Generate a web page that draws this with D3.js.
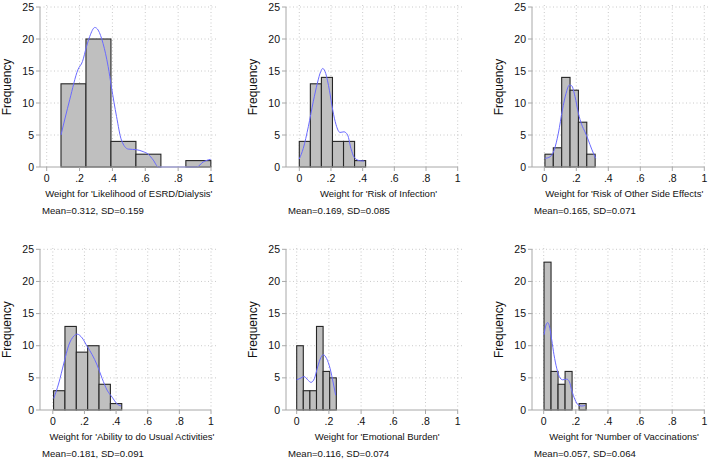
<!DOCTYPE html>
<html>
<head>
<meta charset="utf-8">
<script src="https://cdn.jsdelivr.net/npm/d3@7"></script>
<style>
  body { margin: 0; background: #fff; }
  svg { display: block; font-family: "Liberation Sans", Arial, sans-serif; }
</style>
</head>
<body>
<svg id="chart" width="709" height="459"></svg>
<script>
// attribute weights, one histogram per attribute
const titles = [
  "Weight for 'Likelihood of ESRD/Dialysis'",
  "Weight for 'Risk of Infection'",
  "Weight for 'Risk of Other Side Effects'",
  "Weight for 'Ability to do Usual Activities'",
  "Weight for 'Emotional Burden'",
  "Weight for 'Number of Vaccinations'"
];
const means = [0.312, 0.169, 0.165, 0.181, 0.116, 0.057];
const sds = [0.159, 0.085, 0.071, 0.091, 0.074, 0.064];

// histogram bins: first edge, bin width, counts
const binStart = [0.087, 0, 0.004, 0.005, 0, 0.002];
const binWidth = [0.152, 0.0698, 0.0523, 0.0718, 0.041, 0.0437];
const counts = [
  [13, 20, 4, 2, 0, 1],
  [4, 13, 14, 4, 4, 1],
  [2, 3, 14, 12, 7, 2],
  [3, 13, 9, 10, 4, 1],
  [10, 3, 3, 13, 6, 5],
  [23, 6, 4, 6, 0, 1]
];

// kernel density overlays (scaled to frequency)
const kde = [
  [[0.087,5.0],[0.14,10.5],[0.19,15.2],[0.218,16.5],[0.242,18.8],[0.262,20.4],[0.293,21.8],[0.313,21.4],[0.343,19.3],[0.374,15.7],[0.394,12.5],[0.425,7.9],[0.455,4.2],[0.496,2.8],[0.547,2.7],[0.587,2.4],[0.618,2.0],[0.648,1.1],[0.68,0],[0.913,0],[0.953,0.8],[0.998,1.2]],
  [[0,1.25],[0.025,2.9],[0.057,6.3],[0.088,10.2],[0.114,13.1],[0.135,14.9],[0.148,15.4],[0.167,14.6],[0.19,12.0],[0.211,8.9],[0.232,6.6],[0.257,5.4],[0.282,5.5],[0.305,5.0],[0.326,2.9],[0.347,1.5],[0.379,1.0],[0.41,0.94]],
  [[0.004,1.35],[0.036,1.6],[0.061,2.6],[0.088,5.3],[0.113,8.9],[0.136,11.5],[0.157,12.8],[0.171,12.7],[0.192,11.0],[0.213,8.4],[0.234,6.6],[0.254,5.5],[0.275,4.2],[0.296,2.8],[0.321,1.35]],
  [[0.006,1.8],[0.038,4.2],[0.07,7.3],[0.101,10.1],[0.133,11.5],[0.154,11.8],[0.186,11.2],[0.217,9.9],[0.249,8.6],[0.28,7.0],[0.312,4.9],[0.343,3.1],[0.375,2.0],[0.407,0.93],[0.432,0.62]],
  [[0,4.7],[0.02,4.9],[0.047,5.2],[0.068,4.7],[0.089,4.3],[0.11,4.9],[0.13,6.7],[0.151,8.2],[0.165,8.6],[0.186,8.0],[0.207,6.5],[0.227,4.2],[0.242,2.3]],
  [[0.002,11.7],[0.014,13.2],[0.025,13.6],[0.035,13.1],[0.05,10.9],[0.064,8.6],[0.081,6.5],[0.097,5.2],[0.118,4.7],[0.143,4.8],[0.16,4.4],[0.174,3.1],[0.195,1.6],[0.215,0.78],[0.237,0.62],[0.257,0.7]]
];

const xTicks = [0, 0.2, 0.4, 0.6, 0.8, 1];
const xTickLabels = ["0", ".2", ".4", ".6", ".8", "1"];
const yTicks = [0, 5, 10, 15, 20, 25];

// panel frames: y axis position, x range in pixels, y range in pixels
const panels = [
  { axisX: 40,  x0: 46.7,  x1: 211,   yb: 167, yt: 7 },
  { axisX: 286, x0: 299.3, x1: 457.7, yb: 167, yt: 7 },
  { axisX: 532, x0: 544.3, x1: 704.3, yb: 167, yt: 7 },
  { axisX: 40,  x0: 52.8,  x1: 211,   yb: 410, yt: 249.3 },
  { axisX: 286, x0: 296.7, x1: 457.7, yb: 410, yt: 249.3 },
  { axisX: 532, x0: 543.7, x1: 704.3, yb: 410, yt: 249.3 }
];

const svg = d3.select('#chart');
const axisColor = '#a8a8a8';

panels.forEach((p, i) => {
  const g = svg.append('g');
  const x = d3.scaleLinear().domain([0, 1]).range([p.x0, p.x1]);
  const y = d3.scaleLinear().domain([0, 25]).range([p.yb, p.yt]);

  // dotted grid
  g.selectAll('line.hgrid')
    .data(yTicks.slice(1))
    .enter().append('line')
    .attr('class', 'hgrid')
    .attr('x1', p.axisX).attr('x2', p.x1 + 6)
    .attr('y1', d => y(d)).attr('y2', d => y(d))
    .attr('stroke', '#c4c4c4').attr('stroke-width', 0.9)
    .attr('stroke-dasharray', '1,2.5');
  g.selectAll('line.vgrid')
    .data(xTicks)
    .enter().append('line')
    .attr('class', 'vgrid')
    .attr('x1', d => x(d)).attr('x2', d => x(d))
    .attr('y1', p.yb).attr('y2', p.yt - 4)
    .attr('stroke', '#c4c4c4').attr('stroke-width', 0.9)
    .attr('stroke-dasharray', '1,2.5');

  // bars
  g.selectAll('rect.bar')
    .data(counts[i].map((c, k) => ({ c: c, lo: binStart[i] + k * binWidth[i], hi: binStart[i] + (k + 1) * binWidth[i] })))
    .enter().append('rect')
    .attr('class', 'bar')
    .attr('x', d => x(d.lo))
    .attr('width', d => x(d.hi) - x(d.lo))
    .attr('y', d => y(d.c))
    .attr('height', d => y(0) - y(d.c))
    .attr('fill', '#bfbfbf')
    .attr('stroke', '#262626')
    .attr('stroke-width', 1.1);

  // density curve
  const line = d3.line()
    .x(d => x(d[0]))
    .y(d => y(d[1]))
    .curve(d3.curveMonotoneX);
  g.append('path')
    .attr('d', line(kde[i]))
    .attr('fill', 'none')
    .attr('stroke', '#6a6aff')
    .attr('stroke-width', 1);

  // y axis
  g.append('line')
    .attr('x1', p.axisX).attr('x2', p.axisX)
    .attr('y1', p.yb).attr('y2', p.yt)
    .attr('stroke', axisColor).attr('stroke-width', 1);
  g.selectAll('line.ytick')
    .data(yTicks)
    .enter().append('line')
    .attr('x1', p.axisX - 4).attr('x2', p.axisX)
    .attr('y1', d => y(d)).attr('y2', d => y(d))
    .attr('stroke', axisColor);
  g.selectAll('text.ytick')
    .data(yTicks)
    .enter().append('text')
    .attr('x', p.axisX - 6)
    .attr('y', d => y(d) + 3.6)
    .attr('text-anchor', 'end')
    .attr('font-size', 10.5)
    .attr('fill', '#111')
    .text(d => d);

  // x axis
  g.append('line')
    .attr('x1', p.axisX).attr('x2', p.x1)
    .attr('y1', p.yb).attr('y2', p.yb)
    .attr('stroke', axisColor).attr('stroke-width', 1);
  g.selectAll('line.xtick')
    .data(xTicks)
    .enter().append('line')
    .attr('x1', d => x(d)).attr('x2', d => x(d))
    .attr('y1', p.yb).attr('y2', p.yb + 4)
    .attr('stroke', axisColor);
  g.selectAll('text.xtick')
    .data(xTicks)
    .enter().append('text')
    .attr('x', d => x(d))
    .attr('y', p.yb + 14.5)
    .attr('text-anchor', 'middle')
    .attr('font-size', 10.5)
    .attr('fill', '#111')
    .text((d, k) => xTickLabels[k]);

  // titles
  g.append('text')
    .attr('transform', `translate(${p.axisX - 29.5},${(p.yb + p.yt) / 2}) rotate(-90)`)
    .attr('text-anchor', 'middle')
    .attr('font-size', 12)
    .attr('fill', '#111')
    .text('Frequency');
  g.append('text')
    .attr('x', (p.x0 + p.x1) / 2)
    .attr('y', p.yb + 29.5)
    .attr('text-anchor', 'middle')
    .attr('font-size', 9.5)
    .attr('fill', '#111')
    .text(titles[i]);
  g.append('text')
    .attr('x', p.axisX + 2)
    .attr('y', p.yb + 47)
    .attr('font-size', 9.6)
    .attr('fill', '#111')
    .text(`Mean=${means[i].toFixed(3)}, SD=${sds[i].toFixed(3)}`);
});
</script>
</body>
</html>
